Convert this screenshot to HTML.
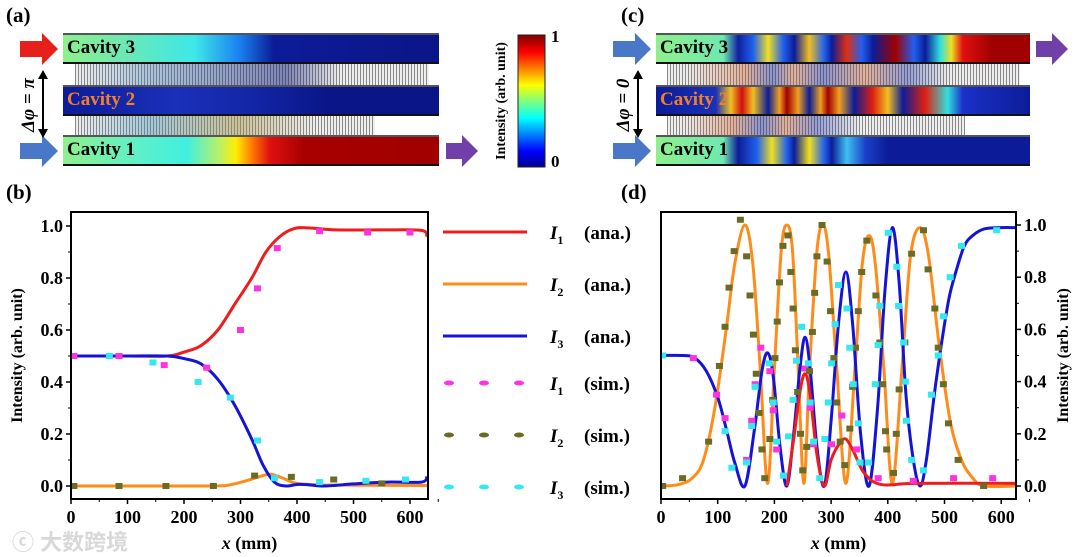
<!DOCTYPE html>
<html><head><meta charset="utf-8">
<style>
body{margin:0;width:1080px;height:555px;background:#fff;position:relative;overflow:hidden;font-family:"Liberation Serif",serif;font-weight:bold}
.abs{position:absolute}
.bar{position:absolute;height:31px;border-top:2px solid #555;border-bottom:2px solid #111;box-sizing:border-box}
.lbl{position:absolute;left:4px;top:2px;font-size:19px;font-weight:bold;color:#000}
.grat{position:absolute;height:21px;background:repeating-linear-gradient(90deg,#888 0 1px,#eee 1px 3px)}
.plabel{position:absolute;font-size:21px;font-weight:bold}
</style></head><body>
<div class="plabel" style="left:6px;top:3px">(a)</div>
<div class="plabel" style="left:6px;top:180px">(b)</div>
<div class="plabel" style="left:621px;top:3px">(c)</div>
<div class="plabel" style="left:621px;top:180px">(d)</div>

<!-- panel a -->
<div class="grat" style="left:75px;top:64px;width:354px"><div style="position:absolute;inset:0;background:linear-gradient(90deg,rgba(0,0,0,0) 0%,rgba(60,120,180,.35) 20%,rgba(20,30,120,.5) 60%,rgba(0,0,0,0) 75%)"></div></div>
<div class="grat" style="left:75px;top:116px;width:300px"><div style="position:absolute;inset:0;background:linear-gradient(90deg,rgba(0,0,0,0) 0%,rgba(60,140,180,.4) 25%,rgba(160,140,60,.45) 55%,rgba(0,0,0,0) 80%)"></div></div>
<div class="bar" style="left:63px;top:33px;width:376px;background:linear-gradient(90deg,#8ef08c 0%,#6fe8b0 15%,#3ee8e8 35%,#1a80f0 47%,#0c1c98 56%,#0a1688 100%)"><span class="lbl">Cavity 3</span></div>
<div class="bar" style="left:63px;top:85px;width:376px;background:linear-gradient(90deg,#0c1c98 0%,#1a30b8 30%,#1326a8 50%,#0a1688 70%,#0a1688 100%)"><span class="lbl" style="color:#f0802a">Cavity 2</span></div>
<div class="bar" style="left:63px;top:135px;width:376px;background:linear-gradient(90deg,#8ef08c 0%,#5ef0c8 20%,#40f0e0 33%,#c0f060 42%,#ffee00 46%,#ff8000 50%,#e01010 55%,#a80000 64%,#a00000 100%)"><span class="lbl">Cavity 1</span></div>
<svg class="abs" style="left:0;top:0" width="1080" height="190">
 <polygon points="20,41 42,41 42,33 58,49 42,65 42,57 20,57" fill="#e8201c"/>
 <polygon points="20,143 42,143 42,135 58,151 42,167 42,159 20,159" fill="#4a78c8"/>
 <polygon points="446,143 462,143 462,135 478,151 462,167 462,159 446,159" fill="#7040a8"/>
 <line x1="43" y1="75" x2="43" y2="133" stroke="#000" stroke-width="2"/>
 <polygon points="43,70 38,79 48,79" fill="#000"/><polygon points="43,138 38,129 48,129" fill="#000"/>
 <text transform="translate(34,105) rotate(-90)" text-anchor="middle" font-size="19" font-style="italic" font-weight="bold">Δφ = π</text>
 <defs><linearGradient id="cb" x1="0" y1="1" x2="0" y2="0"><stop offset="0" stop-color="#00008f"/><stop offset=".12" stop-color="#0000ff"/><stop offset=".37" stop-color="#00ffff"/><stop offset=".5" stop-color="#7fff7f"/><stop offset=".62" stop-color="#ffff00"/><stop offset=".87" stop-color="#ff0000"/><stop offset="1" stop-color="#800000"/></linearGradient></defs>
 <rect x="518" y="35" width="27" height="132" fill="url(#cb)" stroke="#222" stroke-width="1"/>
 <text x="551" y="42" font-size="17" font-weight="bold">1</text>
 <text x="551" y="167" font-size="17" font-weight="bold">0</text>
 <text transform="translate(505,101) rotate(-90)" text-anchor="middle" font-size="14" font-weight="bold">Intensity (arb. unit)</text>
 <!-- panel c -->
 <polygon points="613,41 635,41 635,33 651,49 635,65 635,57 613,57" fill="#4a78c8"/>
 <polygon points="613,143 635,143 635,135 651,151 635,167 635,159 613,159" fill="#4a78c8"/>
 <polygon points="1036,41 1052,41 1052,33 1068,49 1052,65 1052,57 1036,57" fill="#7040a8"/>
 <line x1="638" y1="75" x2="638" y2="133" stroke="#000" stroke-width="2"/>
 <polygon points="638,70 633,79 643,79" fill="#000"/><polygon points="638,138 633,129 643,129" fill="#000"/>
 <text transform="translate(629,105) rotate(-90)" text-anchor="middle" font-size="19" font-style="italic" font-weight="bold">Δφ = 0</text>
</svg>
<div class="grat" style="left:667px;top:64px;width:353px"><div style="position:absolute;inset:0;background:linear-gradient(90deg,rgba(0,0,0,0) 5%,rgba(200,90,40,.4) 22%,rgba(20,40,160,.45) 30%,rgba(200,90,40,.4) 36%,rgba(20,40,160,.45) 44%,rgba(200,90,40,.4) 56%,rgba(20,40,160,.4) 68%,rgba(0,0,0,0) 80%)"></div></div>
<div class="grat" style="left:667px;top:116px;width:298px"><div style="position:absolute;inset:0;background:linear-gradient(90deg,rgba(0,0,0,0) 5%,rgba(200,90,40,.4) 22%,rgba(20,40,160,.45) 32%,rgba(200,90,40,.4) 40%,rgba(20,40,160,.4) 50%,rgba(0,0,0,0) 65%)"></div></div>
<div class="bar" style="left:656px;top:33px;width:374px;background:linear-gradient(90deg,#8ef08c 0%,#6fe8b0 18%,#1020a0 22%,#2060f0 26%,#f0e020 30%,#2060f0 34%,#0c1c98 37%,#f0c020 41%,#2060f0 45%,#0c1c98 47%,#e03010 51%,#2060f0 55%,#0c1c98 58%,#a00000 64%,#2060f0 69%,#0c1c98 72%,#30e0e0 76%,#f0e020 79%,#e01010 82%,#a00000 90%,#a00000 100%)"><span class="lbl">Cavity 3</span></div>
<div class="bar" style="left:656px;top:85px;width:374px;background:linear-gradient(90deg,#0c1c98 0%,#1a30b8 16%,#f0c020 20%,#d01010 23%,#f0c020 26%,#0c1c98 30%,#f0a020 33%,#a00000 35%,#f0a020 38%,#0c1c98 41%,#f0a020 44%,#a00000 46%,#f0a020 49%,#0c1c98 53%,#e02010 58%,#f0c020 62%,#0c1c98 66%,#e02010 72%,#30e0e0 78%,#1a30c8 82%,#0c1c98 100%)"><span class="lbl" style="color:#f0802a">Cavity 2</span></div>
<div class="bar" style="left:656px;top:135px;width:374px;background:linear-gradient(90deg,#8ef08c 0%,#6fe8b0 18%,#0c1c98 22%,#2060f0 27%,#f0e020 31%,#2060f0 35%,#0c1c98 37%,#f0e020 41%,#2060f0 45%,#0c1c98 47%,#40c0f0 51%,#1a40c8 56%,#0c1c98 62%,#0c1c98 100%)"><span class="lbl">Cavity 1</span></div>

<div class="abs" style="left:12px;top:525px;font-size:22px;color:rgba(200,200,200,.7);font-family:'Liberation Sans','Noto Sans CJK SC',sans-serif">ⓒ 大数跨境</div>

<svg id="charts" class="abs" style="left:0;top:0" width="1080" height="555"></svg>
<script>
// Panel (b) data
const bX1=[0,100,170,200,230,260,290,320,345,370,395,420,470,550,620,630];
const bY1=[0.5,0.5,0.5,0.515,0.54,0.6,0.7,0.8,0.9,0.96,0.99,0.993,0.985,0.985,0.983,0.96];
const bX2=[0,100,250,280,310,340,355,375,400,440,520,630];
const bY2=[0,0,0,0.004,0.02,0.04,0.045,0.03,0.01,0.004,0.003,0.002];
const bX3=[0,100,170,200,230,260,290,320,340,360,380,400,420,450,500,560,620,630];
const bY3=[0.5,0.5,0.5,0.49,0.47,0.41,0.31,0.18,0.08,0.015,0,0.006,0.005,0.0,0.008,0.015,0.015,0.035];
const bS1x=[5,85,165,240,300,330,365,440,525,600];
const bS1y=[0.5,0.5,0.465,0.455,0.6,0.76,0.915,0.98,0.975,0.975];
const bS2x=[5,85,168,252,325,390,465,550];
const bS2y=[0,0,0,0,0.04,0.035,0.025,0.01];
const bS3x=[68,145,225,282,330,360,440,522,592];
const bS3y=[0.5,0.475,0.4,0.34,0.175,0.03,0.015,0.02,0.025];
// Panel (d) data
const dX2=[0,30,55,75,95,115,130,148,162,175,188,200,212,222,232,242,252,262,275,286,296,310,326,342,355,367,378,393,408,425,440,457,472,490,510,530,550,570,625];
const dY2=[0,0.005,0.03,0.1,0.3,0.6,0.85,1.0,0.85,0.45,0.01,0.45,0.9,1.0,0.9,0.45,0.01,0.45,0.9,1.0,0.88,0.45,0.01,0.45,0.85,0.96,0.85,0.45,0.01,0.45,0.88,0.99,0.88,0.55,0.25,0.1,0.03,0.0,0.0];
const dX3=[0,40,60,80,100,115,130,148,165,178,188,198,210,222,234,245,254,263,275,288,300,313,326,338,352,367,382,395,408,420,432,445,457,468,482,495,508,520,535,550,570,600,625];
const dY3=[0.5,0.5,0.49,0.44,0.34,0.22,0.09,0.0,0.22,0.44,0.51,0.42,0.15,0.0,0.2,0.45,0.57,0.45,0.15,0.0,0.25,0.62,0.82,0.62,0.2,0.0,0.3,0.75,0.99,0.78,0.35,0.1,0.0,0.1,0.35,0.55,0.72,0.82,0.92,0.96,0.985,0.99,0.99];
const dX1=[222,234,245,254,263,275,288,300,314,326,340,355,372,390,410,450,625];
const dY1=[0.0,0.18,0.36,0.43,0.35,0.12,0.0,0.1,0.16,0.18,0.13,0.06,0.02,0.005,0.005,0.01,0.01];
const dS1x=[57,98,113,151,160,166,176,192,198,204,216,254,263,269,301,319,345,383,445,516,585];
const dS1y=[0.49,0.35,0.26,0.1,0.25,0.39,0.53,0.44,0.29,0.14,0.04,0.45,0.3,0.16,0.16,0.27,0.14,0.03,0.02,0.03,0.03];
const dS2x=[3,38,84,103,113,120,129,140,151,157,163,168,173,178,183,192,197,201,205,209,215,224,229,233,237,241,246,250,257,262,267,271,275,284,293,299,305,310,316,324,333,338,343,348,354,363,379,386,391,396,398,410,415,420,430,442,463,471,483,489,498,507,524,569];
const dS2y=[0,0.03,0.17,0.46,0.61,0.76,0.9,1.02,0.88,0.73,0.58,0.43,0.28,0.14,0.03,0.18,0.33,0.49,0.63,0.78,0.92,0.96,0.82,0.68,0.52,0.36,0.2,0.06,0.15,0.44,0.59,0.74,0.88,1.0,0.86,0.67,0.49,0.32,0.17,0.08,0.22,0.38,0.53,0.67,0.82,0.94,0.73,0.55,0.39,0.21,0.14,0.05,0.2,0.37,0.55,0.89,0.98,0.83,0.68,0.53,0.39,0.24,0.1,0];
const dS3x=[3,113,125,151,160,166,191,198,204,216,225,233,239,248,260,263,269,280,289,295,301,307,313,328,333,339,348,351,366,378,383,386,401,416,419,428,431,433,442,463,477,489,498,510,530,592];
const dS3y=[0.5,0.21,0.07,0.09,0.23,0.38,0.47,0.32,0.17,0.04,0.19,0.33,0.48,0.61,0.47,0.32,0.17,0.03,0.18,0.32,0.47,0.62,0.77,0.68,0.53,0.39,0.24,0.09,0.09,0.39,0.54,0.69,0.97,0.84,0.69,0.55,0.4,0.25,0.1,0.06,0.35,0.5,0.65,0.8,0.92,0.98];
const xTicks=[0,100,200,300,400,500,600];
const yTicks=[0,0.2,0.4,0.6,0.8,1.0];

const NS='http://www.w3.org/2000/svg';
const svg=document.getElementById('charts');
function mk(tag,attrs,parent){const e=document.createElementNS(NS,tag);for(const k in attrs)e.setAttribute(k,attrs[k]);(parent||svg).appendChild(e);return e;}
function smooth(pts){let d='M'+pts[0][0]+','+pts[0][1];for(let i=0;i<pts.length-1;i++){const p0=pts[i-1]||pts[i],p1=pts[i],p2=pts[i+1],p3=pts[i+2]||p2;const c1=[p1[0]+(p2[0]-p0[0])/6,p1[1]+(p2[1]-p0[1])/6],c2=[p2[0]-(p3[0]-p1[0])/6,p2[1]-(p3[1]-p1[1])/6];d+=` C${c1[0]},${c1[1]} ${c2[0]},${c2[1]} ${p2[0]},${p2[1]}`;}return d;}

function panel(o){
  const sx=v=>o.x0+v*o.kx, sy=v=>o.y0-v*o.ky;
  const g=mk('g',{});
  
  
  const cp='clip-'+o.name;
  const cl=mk('clipPath',{id:cp},g);mk('rect',{x:o.L,y:o.T,width:o.R-o.L,height:o.B-o.T},cl);
  const plot=mk('g',{'clip-path':`url(#${cp})`},g);
  o.lines.forEach(ln=>{
    const p=mk('path',{d:smooth(ln.x.map((v,i)=>[sx(v),sy(ln.y[i])])),fill:'none',stroke:ln.c,'stroke-width':3},plot);
    
    
  });
  o.sims.forEach(s=>{
    s.x.forEach((v,i)=>{
      const r=mk('rect',{x:sx(v)-3.5,y:sy(s.y[i])-3,width:7,height:6,fill:s.c},plot);
      
      
    });
  });
  mk('rect',{x:o.L,y:o.T,width:o.R-o.L,height:o.B-o.T,fill:'none',stroke:'#000','stroke-width':2},g);
  xTicks.forEach(t=>{const x=sx(t);mk('line',{x1:x,y1:o.B,x2:x,y2:o.B+5,stroke:'#000','stroke-width':1.5},g);
    const tx=mk('text',{x:x,y:o.B+24,'text-anchor':'middle','font-size':18,'font-weight':'bold'},g);tx.textContent=t;
    
    
    mk('line',{x1:x+o.kx*50,y1:o.B,x2:x+o.kx*50,y2:o.B+3,stroke:'#000','stroke-width':1},g);});
  yTicks.forEach(t=>{const y=sy(t);const ax=o.right?o.R:o.L, dir=o.right?1:-1;
    mk('line',{x1:ax,y1:y,x2:ax+dir*5,y2:y,stroke:'#000','stroke-width':1.5},g);
    if(t<1)mk('line',{x1:ax,y1:y-o.ky*0.1,x2:ax+dir*3,y2:y-o.ky*0.1,stroke:'#000','stroke-width':1},g);
    const tx=mk('text',{x:ax+dir*8,y:y+6,'text-anchor':o.right?'start':'end','font-size':18,'font-weight':'bold'},g);tx.textContent=t.toFixed(1);
    
    });
  const xl=mk('text',{x:(o.L+o.R)/2,y:o.B+50,'text-anchor':'middle','font-size':18,'font-weight':'bold'},g);
  xl.innerHTML='<tspan font-style="italic">x</tspan> (mm)';
  
  
  const yl=mk('text',{transform:`translate(${o.ylx},${(o.T+o.B)/2}) rotate(-90)`,'text-anchor':'middle','font-size':16,'font-weight':'bold'},g);
  yl.textContent='Intensity (arb. unit)';
  
  
}
panel({name:'panel-b-chart',L:71,R:428,T:212,B:499,x0:71,kx:0.565,y0:486,ky:260,ylx:22,right:false,
  lines:[{x:bX2,y:bY2,c:'#ff8c1a',n:'b-i2-ana'},{x:bX1,y:bY1,c:'#ee1c1c',n:'b-i1-ana'},{x:bX3,y:bY3,c:'#1414d8',n:'b-i3-ana'}],
  sims:[{x:bS1x,y:bS1y,c:'#ff33dd',n:'b-i1-sim'},{x:bS2x,y:bS2y,c:'#6b6b26',n:'b-i2-sim'},{x:bS3x,y:bS3y,c:'#33e8f0',n:'b-i3-sim'}]});
panel({name:'panel-d-chart',L:661,R:1016,T:212,B:499,x0:661,kx:0.567,y0:486,ky:261,ylx:1068,right:true,
  lines:[{x:dX2,y:dY2,c:'#ff8c1a',n:'d-i2-ana'},{x:dX3,y:dY3,c:'#1414d8',n:'d-i3-ana'},{x:dX1,y:dY1,c:'#ee1c1c',n:'d-i1-ana'}],
  sims:[{x:dS1x,y:dS1y,c:'#ff33dd',n:'d-i1-sim'},{x:dS2x,y:dS2y,c:'#6b6b26',n:'d-i2-sim'},{x:dS3x,y:dS3y,c:'#33e8f0',n:'d-i3-sim'}]});

// legend
const legNames=['1','2','3','1','2','3'];
const legKinds=['(ana.)','(ana.)','(ana.)','(sim.)','(sim.)','(sim.)'];
const legColors=['#ee1c1c','#ff8c1a','#1414d8','#ff33dd','#6b6b26','#33e8f0'];
const legY=[232,284,336,383,435,487];
legY.forEach((y,i)=>{
  const g=mk('g',{});
  
  
  if(i<3)mk('line',{x1:443,y1:y,x2:527,y2:y,stroke:legColors[i],'stroke-width':3},g);
  else [449,484,519].forEach(cx=>mk('ellipse',{cx:cx,cy:y,rx:5,ry:2.5,fill:legColors[i]},g));
  const t=mk('text',{x:550,y:y+7,'font-size':19,'font-weight':'bold'},g);
  t.innerHTML=`<tspan font-style="italic">I</tspan><tspan font-size="12" dy="5">${legNames[i]}</tspan><tspan dy="-5" x="584">${legKinds[i]}</tspan>`;
});
</script>
</body></html>
